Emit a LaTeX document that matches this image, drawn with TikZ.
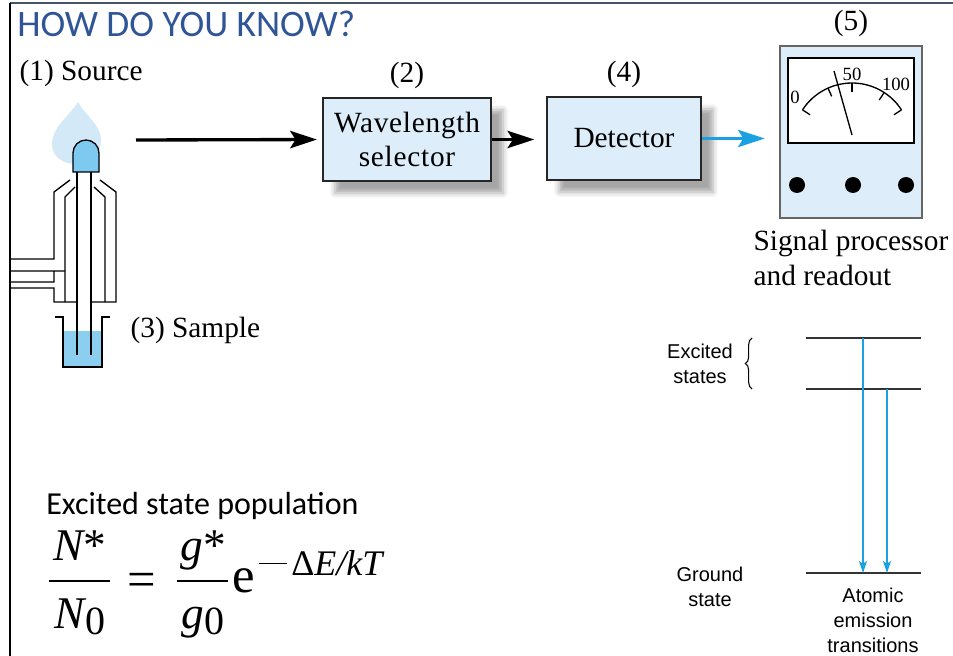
\documentclass[tikz,border=0pt]{standalone}
\usepackage{fontspec}
\setmainfont{Liberation Serif}
\newfontfamily\spacedserif[LetterSpace=2.5]{Liberation Serif}
\newfontfamily\slidefont{Carlito}
\newfontfamily\labelfont{Liberation Sans}
\usetikzlibrary{arrows.meta}
\usetikzlibrary{decorations.pathreplacing}
\usetikzlibrary{positioning}
\usetikzlibrary{shadows.blur}
\definecolor{slideblue}{RGB}{47,85,151}
\definecolor{slideline}{RGB}{68,84,106}
\definecolor{boxblue}{RGB}{221,238,250}
\definecolor{beamblue}{RGB}{27,161,226}
\definecolor{flamelight}{RGB}{212,233,248}
\definecolor{flamecore}{RGB}{125,201,240}
\definecolor{liquid}{RGB}{140,206,240}
\newcommand{\serifsize}{\fontsize{22}{26}\selectfont}
\newcommand{\notesize}{\fontsize{15}{18.75}\selectfont}
\newcommand{\subzero}{\raisebox{-5pt}{\fontsize{30}{34}\selectfont 0}}
\tikzset{
    lbl/.style={font=\serifsize, inner sep=1pt},
    stage/.style={draw=black!85, line width=1.2pt, fill=boxblue, font=\serifsize, align=center,
        blur shadow={shadow xshift=9pt, shadow yshift=-9pt, shadow blur radius=4pt, shadow opacity=35}},
    meterbox/.style={draw=black!60, line width=1pt, fill=boxblue},
    beam/.style={line width=2.5pt, -{Stealth[length=20pt, width=13pt, inset=4pt]}},
    level/.style={draw=black!80, line width=1pt},
    transition/.style={beamblue, line width=1pt, -{Stealth[length=9pt, width=6pt, inset=2pt]}},
    note/.style={font=\labelfont\notesize, align=center},
    tube/.style={line width=1pt},
    eqn/.style={font=\fontsize{34}{40}\selectfont, inner sep=0pt, anchor=base},
    fracbar/.style={line width=1.4pt},
}

\begin{document}
\begin{tikzpicture}[x=0.75pt, y=0.75pt]
    \useasboundingbox (0,0) rectangle (953,-656);

    % slide frame and heading
    \draw[slideline, line width=2.2pt] (10,-3) -- (953,-3);
    \draw[line width=1.5pt] (10,-3) -- (10,-656);
    \node[anchor=west, inner sep=0pt, text=slideblue, font=\slidefont\fontsize{28}{32}\selectfont] (title) at (17,-24) {HOW DO YOU KNOW?};

    % burner: flame, tubes, sample cup
    \fill[flamelight] (78,-102) .. controls (70,-115) and (52,-127) .. (52,-144)
        .. controls (52,-157) and (63,-164) .. (76,-164)
        .. controls (92,-164) and (101,-154) .. (101,-140)
        .. controls (101,-125) and (85,-115) .. (78,-102) -- cycle;
    \draw[tube, fill=flamecore] (73,-172) -- (73,-153) arc[start angle=180, end angle=0, radius=13] -- (99,-172) -- cycle;
    \fill[liquid] (63,-331) rectangle (102,-367);
    \draw[tube] (77,-172) -- (77,-355) (91,-172) -- (91,-355);
    \draw[tube] (70,-180) -- (54,-192) -- (54,-259) -- (10,-259)
        (10,-288) -- (54,-288) -- (54,-302) -- (77,-302)
        (10,-271) -- (65,-271) (10,-282) -- (54,-282) -- (54,-271);
    \draw[tube] (75,-187) -- (65,-197) -- (65,-302);
    \draw[tube] (100,-180) -- (116,-192) -- (116,-302) -- (91,-302);
    \draw[tube] (94,-187) -- (105,-197) -- (105,-302);
    \draw[tube] (55,-317) -- (63,-317) -- (63,-367) -- (102,-367) -- (102,-317) -- (110,-317);

    \node[lbl, anchor=west] (source) at (18,-73) {(1) Source};
    \node[lbl, anchor=west] (sample) at (129,-330) {(3) Sample};
    \coordinate (burner-out) at (136,-140);

    % optical path
    \node[stage, minimum width=126pt, minimum height=62.25pt] (selector) at (407,-139.5) {\spacedserif Wavelength\\\spacedserif selector};
    \node[stage, minimum width=115.5pt, minimum height=62.25pt] (detector) at (624,-138.5) {Detector};
    \node[meterbox, minimum width=106.5pt, minimum height=129pt] (meter) at (851,-132) {};
    \node[lbl, above=5pt of selector] (selector-num) {(2)};
    \node[lbl, above=5pt of detector] (detector-num) {(4)};
    \node[lbl, above=5pt of meter] (meter-num) {(5)};

    \draw[beam, shorten >=4pt] (burner-out) -- (selector.west);
    \draw[beam, shorten >=9pt] (selector.east) -- (selector.east -| detector.west);
    \draw[beam, beamblue, line width=2.2pt, shorten >=11pt] (detector.east) -- (detector.east -| meter.west);

    % readout dial
    \draw[fill=white, line width=1pt] (788,-58) rectangle (914,-143);
    \coordinate (pivot) at (852,-142);
    \draw[line width=1pt] (pivot) ++(147:59) arc[start angle=147, end angle=33, radius=59];
    \foreach \a in {147,114,90,57,33}
        \draw[line width=1pt] (pivot) ++(\a:59) -- ++(\a+180:9);
    \draw[line width=1pt] (834,-71) -- (852,-135);
    \node[font=\fontsize{14}{16}\selectfont, inner sep=0pt] (dial-0) at (795,-97) {0};
    \node[font=\fontsize{14}{16}\selectfont, inner sep=0pt] (dial-50) at (852,-74) {50};
    \node[font=\fontsize{14}{16}\selectfont, inner sep=0pt] (dial-100) at (896,-84) {100};
    \foreach \x in {797,853,906}
        \fill (\x,-185) circle[radius=8];
    \node[lbl, align=left, anchor=north west] (readout) at (752,-229) {Signal processor\\and readout};

    % energy levels
    \path
        (806,-338) coordinate (upper-l) +(115,0) coordinate (upper-r)
        (806,-389) coordinate (lower-l) +(115,0) coordinate (lower-r)
        (806,-573) coordinate (ground-l) +(115,0) coordinate (ground-r)
        (863,-338) coordinate (from-upper) (863,-573) coordinate (to-ground-1)
        (887,-389) coordinate (from-lower) (887,-573) coordinate (to-ground-2);
    \draw[level] (upper-l) -- (upper-r) (lower-l) -- (lower-r) (ground-l) -- (ground-r);
    \draw[transition] (from-upper) -- (to-ground-1);
    \draw[transition] (from-lower) -- (to-ground-2);
    \draw[line width=0.8pt, decorate, decoration={brace, amplitude=5pt}] (752,-389) -- (752,-338);

    \node[note] (excited) at (700,-364) {Excited\\states};
    \node[note] (ground) at (710,-587) {Ground\\state};
    \node[note] (emission) at (873,-620) {Atomic\\emission\\transitions};

    % population formula, set piece by piece
    \node[anchor=west, inner sep=0pt, font=\slidefont\fontsize{24}{28}\selectfont] (pop-title) at (46,-506) {Excited state population};
    \node[eqn] (num-n) at (80,-560) {\itshape N\upshape *};
    \node[eqn] (den-n) at (80,-628) {\itshape N\upshape\subzero};
    \node[eqn] (num-g) at (203,-560) {\itshape g\upshape *};
    \node[eqn] (den-g) at (203,-628) {\itshape g\upshape\subzero};
    \draw[fracbar] (49,-581) -- (110,-581);
    \draw[fracbar] (177,-581) -- (228,-581);
    \node[eqn, font=\fontsize{38}{44}\selectfont] (eq-sign) at (142,-596) {=};
    \node[eqn, anchor=base west, font=\fontsize{38}{44}\selectfont] (exp-e) at (232,-592) {e};
    \node[eqn, anchor=base west, font=\fontsize{27}{31}\selectfont] (exp-power) at (259,-575)
        {\rule[8pt]{21pt}{1.2pt}\hspace{3pt}\char"0394\itshape E/kT};
\end{tikzpicture}
\end{document}
